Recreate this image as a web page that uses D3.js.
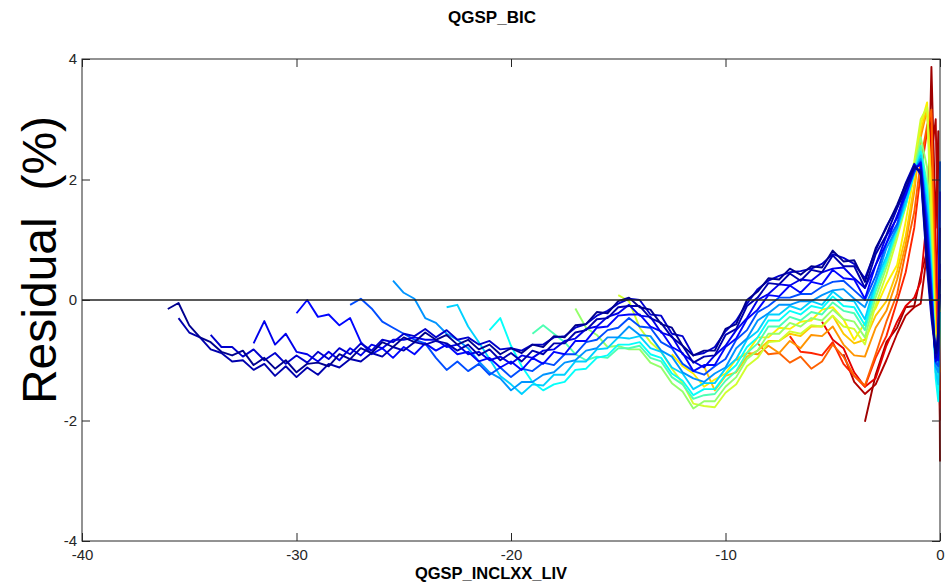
<!DOCTYPE html>
<html><head><meta charset="utf-8">
<script src="https://cdn.jsdelivr.net/npm/d3@7"></script>
<style>
html,body{margin:0;padding:0;background:#fff;}
svg{display:block;font-family:"Liberation Sans",Arial,Helvetica,sans-serif;}
</style></head>
<body>
<svg id="chart" width="951" height="583"></svg>
<script>
// ---------- data ----------
const titleText = "QGSP_BIC";
const xLabelText = "QGSP_INCLXX_LIV";
const yLabelText = "Residual  (%)";
const xTicks = [-40, -30, -20, -10, 0];
const yTicks = [-4, -2, 0, 2, 4];

// shared sampling grid of the curves (x values)
const xGrid = [-36,-35.5,-35,-34.5,-34,-33.5,-33,-32.5,-32,-31.5,-31,-30.5,-30,-29.5,-29,-28.5,-28,-27.5,-27,-26.5,
  -26,-25.5,-25,-24.5,-24,-23.5,-23,-22.5,-22,-21.5,-21,-20.5,-20,-19.5,-19,-18.5,-18,-17.5,-17,-16.5,
  -16,-15.5,-15,-14.5,-14,-13.5,-13,-12.5,-12,-11.5,-11,-10.5,-10,-9.5,-9,-8.5,-8,-7.5,-7,-6.5,
  -6,-5.5,-5,-4.5,-4,-3.5,-3,-2.5,-2,-1.6,-1.2,-0.9,-0.6,-0.4,-0.2,-0.08,0];

// residual curves, each aligned to the end of xGrid (series 0 = darkest blue ... 19 = dark red)
const r00 = [-0.15,-0.05,-0.42,-0.62,-0.70,-0.86,-0.92,-0.84,-1.08,-0.96,
  -1.14,-1.00,-1.20,-1.06,-1.04,-1.10,-0.90,-0.98,-0.80,-0.88,
  -0.70,-0.78,-0.62,-0.70,-0.54,-0.66,-0.58,-0.74,-0.66,-0.82,
  -0.74,-0.90,-0.80,-0.88,-0.74,-0.78,-0.60,-0.62,-0.42,-0.40,
  -0.20,-0.22,-0.02,0.04,-0.12,-0.16,-0.40,-0.46,-0.76,-0.92,
  -0.84,-0.84,-0.48,-0.40,0.00,0.14,0.36,0.34,0.52,0.42,
  0.56,0.54,0.82,0.64,0.66,0.30,0.86,1.20,1.58,1.92,
  2.22,2.12,0.62,-0.18,-0.88,-0.62,0.35];
const r01 = [-0.30,-0.54,-0.62,-0.82,-0.88,-1.02,-1.00,-1.16,-1.06,
  -1.26,-1.10,-1.28,-1.12,-1.24,-1.06,-1.12,-0.98,-1.02,-0.88,
  -0.94,-0.78,-0.84,-0.70,-0.74,-0.68,-0.72,-0.84,-0.74,-0.92,
  -0.82,-1.00,-0.88,-1.02,-0.84,-0.90,-0.72,-0.72,-0.54,-0.50,
  -0.32,-0.30,-0.12,-0.10,-0.10,-0.30,-0.38,-0.62,-0.76,-1.04,
  -0.94,-0.92,-0.58,-0.48,-0.10,0.04,0.28,0.26,0.44,0.32,
  0.50,0.46,0.74,0.56,0.56,0.20,0.76,1.08,1.52,1.84,
  2.18,2.16,0.80,-0.08,-0.96,-0.80,1.20];
const r02 = [-0.58,-0.78,-0.78,-0.94,-0.82,-1.00,
  -0.88,-1.06,-0.92,-1.04,-0.86,-0.98,-0.80,-0.90,-0.72,-0.84,
  -0.66,-0.70,-0.56,-0.60,-0.48,-0.62,-0.50,-0.66,-0.62,-0.74,
  -0.68,-0.82,-0.80,-0.84,-0.74,-0.74,-0.62,-0.60,-0.46,-0.40,
  -0.26,-0.18,-0.06,0.02,0.00,-0.24,-0.26,-0.56,-0.60,-0.92,
  -0.88,-0.78,-0.52,-0.34,-0.06,0.18,0.32,0.40,0.46,0.48,
  0.52,0.60,0.76,0.70,0.60,0.36,0.82,1.22,1.54,1.94,
  2.26,2.08,0.50,-0.30,-0.92,-0.50,0.10];
const r03 = [-0.72,-0.35,
  -0.74,-0.56,-0.86,-0.90,-1.02,-0.86,-1.00,-0.80,-0.92,-0.74,
  -0.80,-0.66,-0.66,-0.62,-0.66,-0.66,-0.78,-0.74,-0.90,-0.86,
  -1.00,-0.94,-1.06,-0.92,-0.96,-0.84,-0.82,-0.68,-0.64,-0.48,
  -0.44,-0.28,-0.22,-0.08,-0.26,-0.28,-0.54,-0.60,-0.90,-1.02,
  -1.12,-0.92,-0.76,-0.50,-0.30,0.00,0.10,0.26,0.24,0.34,
  0.32,0.46,0.52,0.54,0.36,0.20,0.58,1.06,1.36,1.84,
  2.20,2.24,0.98,0.02,-1.02,-0.92,0.60];
const r04 = [-0.22,0.00,-0.28,-0.24,-0.42,-0.30,-0.70,-0.90,
  -0.80,-0.96,-0.78,-0.90,-0.72,-0.84,-0.74,-0.90,-0.86,-1.02,
  -0.96,-1.12,-1.02,-1.16,-0.96,-1.06,-0.86,-0.90,-0.68,-0.68,
  -0.46,-0.44,-0.26,-0.24,-0.24,-0.44,-0.52,-0.78,-0.88,-1.18,
  -1.08,-1.08,-0.78,-0.64,-0.32,-0.16,0.08,0.06,0.24,0.12,
  0.30,0.26,0.50,0.36,0.34,0.02,0.58,0.94,1.40,1.74,
  2.16,2.28,1.10,0.10,-0.98,-1.00,1.80];
const r05 = [-0.08,0.02,-0.14,
  -0.36,-0.46,-0.56,-0.66,-0.72,-0.96,-1.16,-1.02,-1.18,-1.06,
  -1.24,-1.12,-1.28,-1.14,-1.18,-1.04,-1.08,-0.90,-0.90,-0.70,
  -0.66,-0.50,-0.46,-0.30,-0.44,-0.46,-0.70,-0.80,-1.06,-1.18,
  -1.24,-1.10,-0.98,-0.66,-0.50,-0.20,-0.10,0.04,0.04,0.10,
  0.10,0.22,0.30,0.32,0.16,0.00,0.40,0.94,1.26,1.78,
  2.12,2.30,1.30,0.20,-1.04,-1.10,2.30];
const r06 = [0.32,0.12,0.02,-0.30,-0.38,-0.56,-0.66,-0.80,-1.02,
  -1.20,-1.30,-1.50,-1.36,-1.36,-1.24,-1.20,-1.04,-1.00,-0.84,
  -0.80,-0.62,-0.62,-0.44,-0.58,-0.60,-0.84,-0.94,-1.20,-1.30,
  -1.36,-1.22,-1.12,-0.80,-0.64,-0.34,-0.22,-0.08,-0.08,-0.02,
  -0.02,0.08,0.16,0.18,0.02,-0.12,0.30,0.86,1.20,1.72,
  2.14,2.34,1.40,0.30,-1.10,-1.20,1.00];
const r07 = [-0.12,-0.08,-0.44,-0.70,
  -0.98,-1.26,-1.40,-1.56,-1.40,-1.42,-1.24,-1.24,-1.02,-1.02,
  -0.82,-0.80,-0.62,-0.64,-0.60,-0.80,-0.86,-1.12,-1.22,-1.48,
  -1.38,-1.38,-1.14,-0.98,-0.66,-0.52,-0.24,-0.24,-0.10,-0.16,
  -0.02,-0.08,0.14,0.00,-0.02,-0.32,0.30,0.72,1.24,1.62,
  2.12,2.40,1.60,0.40,-1.20,-1.40,-0.20];
const r08 = [-0.50,-0.30,-0.76,-1.10,-1.36,-1.50,-1.40,-1.36,-1.16,-1.14,
  -0.96,-0.92,-0.74,-0.74,-0.70,-0.90,-0.96,-1.22,-1.34,-1.58,
  -1.48,-1.48,-1.24,-1.08,-0.78,-0.62,-0.34,-0.34,-0.18,-0.24,
  -0.10,-0.14,0.06,-0.10,-0.12,-0.42,0.22,0.66,1.18,1.58,
  2.10,2.46,1.80,0.50,-1.30,-1.68,2.30];
const r09 = [-0.56,-0.42,-0.56,-0.70,-0.90,-1.00,
  -0.94,-0.96,-0.80,-0.80,-0.76,-0.96,-1.02,-1.28,-1.40,-1.64,
  -1.58,-1.56,-1.34,-1.18,-0.88,-0.72,-0.44,-0.44,-0.28,-0.34,
  -0.20,-0.24,-0.04,-0.18,-0.22,-0.50,0.14,0.62,1.16,1.58,
  2.14,2.56,1.90,0.60,-1.20,-1.50,0.40];
const r10 = [-0.14,-0.46,
  -0.58,-0.78,-0.76,-0.82,-0.82,-1.04,-1.12,-1.38,-1.52,-1.80,
  -1.68,-1.68,-1.44,-1.28,-0.98,-0.84,-0.56,-0.56,-0.38,-0.44,
  -0.30,-0.34,-0.16,-0.32,-0.36,-0.62,0.04,0.54,1.10,1.56,
  2.18,2.70,2.20,0.80,-1.10,-1.30,-0.40];
const r11 = [0.08,-0.02,-0.46,-0.70,-0.86,-1.14,-1.38,-1.72,
  -1.76,-1.78,-1.54,-1.40,-1.10,-0.96,-0.70,-0.68,-0.52,-0.56,
  -0.42,-0.44,-0.26,-0.44,-0.48,-0.74,-0.08,0.42,1.02,1.56,
  2.30,3.00,3.20,1.20,-1.00,-1.20,0.20];
const r12 = [-0.90,-1.10,-1.22,
  -1.44,-1.32,-1.22,-0.98,-0.88,-0.62,-0.62,-0.46,-0.48,-0.36,
  -0.34,-0.16,-0.12,-0.32,-0.66,-0.38,-0.14,0.26,0.58,1.30,
  2.10,2.90,3.28,1.50,-0.80,-1.10,0.00];
const r13 = [-1.10,-1.50,-1.26,-1.20,-0.94,-0.84,-0.68,-0.68,-0.56,-0.60,
  -0.44,-0.44,-0.26,-0.56,-0.72,-0.66,-0.26,-0.02,0.48,1.06,
  1.90,2.80,3.20,1.80,-0.70,-1.00,-0.50];
const r14 = [-1.00,-0.88,-0.90,-0.76,-0.88,-0.68,-0.80,
  -0.58,-0.60,-0.44,-0.74,-0.92,-0.94,-0.46,-0.18,0.34,0.92,
  1.80,2.70,3.16,2.00,-0.60,-1.00,0.80];
const r15 = [-0.72,-0.90,-0.88,-1.04,-0.94,
  -1.14,-1.02,-0.74,-0.94,-1.26,-1.42,-0.90,-0.36,0.10,0.80,
  1.46,2.30,2.90,3.16,-0.40,-0.90,-1.20];
const r16 = [-0.60,-0.86,
  -0.88,-0.92,-0.70,-1.06,-1.26,-1.44,-0.96,-0.60,-0.02,0.46,
  1.20,2.10,2.80,3.10,0.00,-0.80,-1.50];
const r17 = [-0.36,-0.66,-0.80,-1.20,-1.44,-1.30,-0.76,-0.36,-0.10,
  0.04,0.30,1.40,2.90,1.00,-0.60,-1.80];
const r18 = [-0.90,-1.36,-1.56,-1.40,-1.00,-0.56,-0.26,
  -0.12,-0.06,0.80,2.40,3.00,0.50,-2.00];
const r19 = [-2.02,-1.24,-0.70,-0.46,-0.12,
  -0.10,0.40,0.82,3.87,1.20,2.80,-2.68];

const residualSeries = [r00,r01,r02,r03,r04,r05,r06,r07,r08,r09,r10,r11,r12,r13,r14,r15,r16,r17,r18,r19];
// position of each curve on the jet colour map (style)
const colourPos = [0,0.03,0.06,0.09,0.13,0.2,0.27,0.33,0.38,0.45,0.52,0.58,0.64,0.68,0.73,0.78,0.84,0.9,0.95,0.97];

// ---------- drawing ----------
const W = 951, H = 583;
const plot = {left: 82, right: 940, top: 59, bottom: 541};
const axisColor = "#262626";

const x = d3.scaleLinear().domain([-40, 0]).range([plot.left, plot.right]);
const y = d3.scaleLinear().domain([-4, 4]).range([plot.bottom, plot.top]);

function jet(t) {
  const c = v => Math.max(0, Math.min(1, v));
  const r = c(Math.min(4 * t - 1.5, -4 * t + 4.5));
  const g = c(Math.min(4 * t - 0.5, -4 * t + 3.5));
  const b = c(Math.min(4 * t + 0.5625, -4 * t + 2.5));
  return d3.rgb(r * 255, g * 255, b * 255).formatHex();
}

const svg = d3.select("#chart");
svg.append("rect").attr("width", W).attr("height", H).attr("fill", "#fff");

svg.append("defs").append("clipPath").attr("id", "plotclip")
  .append("rect").attr("x", plot.left).attr("y", plot.top - 10)
  .attr("width", plot.right - plot.left + 3).attr("height", plot.bottom - plot.top + 10);

const line = d3.line().x(d => x(d[0])).y(d => y(d[1]));
const gLines = svg.append("g").attr("clip-path", "url(#plotclip)");

// draw warm colours first so the dark blue curves end up on top
for (let i = residualSeries.length - 1; i >= 0; i--) {
  const ys = residualSeries[i];
  const xs = xGrid.slice(xGrid.length - ys.length);
  const pts = ys.map((v, k) => [xs[k], v]);
  gLines.append("path")
    .attr("d", line(pts))
    .attr("fill", "none")
    .attr("stroke", jet(colourPos[i]))
    .attr("stroke-width", 1.9)
    .attr("stroke-linejoin", "round");
}

// zero line
svg.append("line")
  .attr("x1", x(-40)).attr("x2", x(0)).attr("y1", y(0)).attr("y2", y(0))
  .attr("stroke", "#222").attr("stroke-width", 1.4);

// axes
const fmt = d => String(d);
function styleAxis(g) {
  g.select(".domain").remove();
  g.selectAll(".tick line").attr("stroke", axisColor).attr("stroke-width", 1);
  g.selectAll(".tick text").attr("fill", axisColor)
    .style("font-family", "'Liberation Sans',Arial,sans-serif").style("font-size", "15px");
}
svg.append("g").attr("transform", `translate(0,${plot.bottom})`)
  .call(d3.axisBottom(x).tickValues(xTicks).tickSizeInner(-8).tickSizeOuter(0).tickPadding(8).tickFormat(fmt))
  .call(styleAxis);
svg.append("g").attr("transform", `translate(0,${plot.top})`)
  .call(d3.axisTop(x).tickValues(xTicks).tickSizeInner(-8).tickSizeOuter(0).tickFormat(""))
  .call(styleAxis);
svg.append("g").attr("transform", `translate(${plot.left},0)`)
  .call(d3.axisLeft(y).tickValues(yTicks).tickSizeInner(-8).tickSizeOuter(0).tickPadding(5).tickFormat(fmt))
  .call(styleAxis);
svg.append("g").attr("transform", `translate(${plot.right},0)`)
  .call(d3.axisRight(y).tickValues(yTicks).tickSizeInner(-8).tickSizeOuter(0).tickFormat(""))
  .call(styleAxis);

// frame
svg.append("rect")
  .attr("x", plot.left).attr("y", plot.top)
  .attr("width", plot.right - plot.left).attr("height", plot.bottom - plot.top)
  .attr("fill", "none").attr("stroke", axisColor).attr("stroke-width", 1);

// title and labels
svg.append("text").text(titleText)
  .attr("x", 492).attr("y", 23).attr("text-anchor", "middle")
  .attr("font-size", 17).attr("font-weight", "bold").attr("fill", "#000");
svg.append("text").text(xLabelText)
  .attr("x", 491).attr("y", 578.5).attr("text-anchor", "middle")
  .attr("font-size", 16.5).attr("font-weight", "bold").attr("fill", "#000");
svg.append("text").text(yLabelText)
  .attr("transform", "translate(56,260) rotate(-90)")
  .attr("text-anchor", "middle").style("white-space", "pre")
  .attr("font-size", 48).attr("fill", "#000");
</script>
</body></html>
